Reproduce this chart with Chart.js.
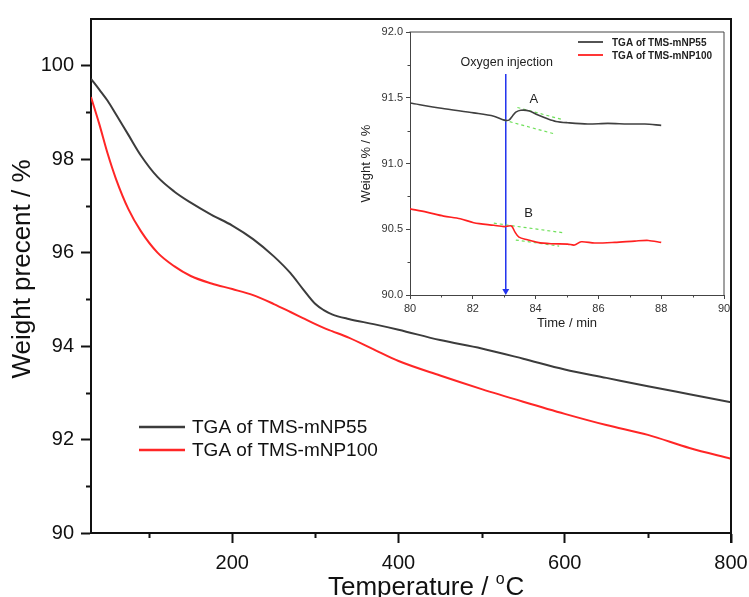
<!DOCTYPE html>
<html>
<head>
<meta charset="utf-8">
<script src="https://cdn.jsdelivr.net/npm/chart.js@4.4.1/dist/chart.umd.min.js"></script>
<style>
  html, body { margin: 0; padding: 0; background: #fff; }
  #wrap { position: relative; width: 749px; height: 597px; overflow: hidden; }
  #main { position: absolute; left: 0; top: 0; }
  #inset { position: absolute; left: 340px; top: 16px; }
</style>
</head>
<body>
<div id="wrap">
  <canvas id="main" width="749" height="597"></canvas>
  <canvas id="inset" width="395" height="320"></canvas>
</div>
<script>
// ---- main TGA curves (temperature in °C, weight in %) ----
const temps = [30, 40, 50, 60, 75, 90, 110, 130, 150, 175, 200, 225, 250, 270, 285, 300, 310, 320, 340, 370, 400, 450, 500, 550, 600, 650, 700, 750, 800];
const weightNP55 = [99.72, 99.49, 99.25, 98.96, 98.52, 98.08, 97.62, 97.31, 97.07, 96.81, 96.58, 96.29, 95.92, 95.56, 95.22, 94.90, 94.77, 94.68, 94.58, 94.47, 94.35, 94.13, 93.95, 93.73, 93.50, 93.32, 93.14, 92.97, 92.80];
const weightNP100 = [99.33, 98.75, 98.12, 97.58, 96.93, 96.46, 96.00, 95.71, 95.50, 95.34, 95.22, 95.09, 94.90, 94.73, 94.60, 94.47, 94.39, 94.32, 94.18, 93.93, 93.68, 93.37, 93.08, 92.81, 92.55, 92.31, 92.10, 91.82, 91.59];
const seriesNames = ["TGA of TMS-mNP55", "TGA of TMS-mNP100"];

const xMajorMain = [200, 400, 600, 800];
const xMinorMain = [100, 300, 500, 700];
const yMajorMain = [90, 92, 94, 96, 98, 100];
const yMinorMain = [91, 93, 95, 97, 99];

// ---- inset: isothermal segment around oxygen injection ----
const timeNP55 = [80, 81, 82.03, 82.67, 83, 83.15, 83.26, 83.37, 83.53, 83.8, 84.06, 84.38, 84.65, 85.02, 85.66, 86.3, 86.94, 87.48, 88];
const insetNP55 = [91.46, 91.42, 91.385, 91.36, 91.33, 91.33, 91.36, 91.39, 91.405, 91.40, 91.37, 91.34, 91.32, 91.31, 91.30, 91.305, 91.30, 91.30, 91.29];
const timeNP100 = [80, 80.53, 81.07, 81.6, 82.03, 82.67, 83, 83.23, 83.34, 83.47, 83.74, 84.06, 84.49, 85.02, 85.24, 85.45, 85.88, 86.52, 87.16, 87.59, 88];
const insetNP100 = [90.655, 90.63, 90.60, 90.58, 90.55, 90.53, 90.52, 90.525, 90.48, 90.44, 90.42, 90.40, 90.39, 90.387, 90.38, 90.405, 90.395, 90.40, 90.41, 90.415, 90.40];
// dashed tangents: [t1, w1, t2, w2]
const tangentLines = [
  [82.99, 91.33, 84.57, 91.227],
  [83.42, 91.426, 84.81, 91.337],
  [82.67, 90.546, 84.86, 90.474],
  [83.37, 90.418, 84.75, 90.372]
];
const arrowTime = 83.05;
const arrowRange = [91.68, 90.03];
const noteTexts = ["Oxygen injection", "A", "B"];
const noteTime = [83.08, 83.94, 83.78];
const noteWeight = [91.77, 91.49, 90.62];

const xMajorInset = [80, 82, 84, 86, 88, 90];
const xMinorInset = [81, 83, 85, 87, 89];
const yMajorInset = [90, 90.5, 91, 91.5, 92];
const yMinorInset = [90.25, 90.75, 91.25, 91.75];

const FONT = "'Liberation Sans', Arial, sans-serif";
Chart.defaults.font.family = FONT;
Chart.defaults.animation = false;

const BLACK = "#3c3c3c";
const RED = "#ff2626";

function pts(xs, ys) {
  return xs.map((x, i) => ({ x: x, y: ys[i] }));
}

// keep the plot box where the layout padding puts it
function noLabelPadding(s) {
  s.paddingLeft = 0;
  s.paddingRight = 0;
}

// small ticks between the labelled ones
const minorTicks = {
  id: "minorTicks",
  afterDraw(chart, args, opts) {
    const ctx = chart.ctx;
    const sx = chart.scales.x, sy = chart.scales.y;
    ctx.save();
    ctx.strokeStyle = opts.color;
    ctx.lineWidth = opts.width;
    ctx.beginPath();
    opts.x.forEach(v => {
      const p = Math.round(sx.getPixelForValue(v)) + 0.5;
      ctx.moveTo(p, sx.top);
      ctx.lineTo(p, sx.top + opts.length);
    });
    opts.y.forEach(v => {
      const p = Math.round(sy.getPixelForValue(v)) + 0.5;
      ctx.moveTo(sy.right, p);
      ctx.lineTo(sy.right - opts.length, p);
    });
    ctx.stroke();
    ctx.restore();
  }
};

// top and right edges of the plot box
const frame = {
  id: "frame",
  afterDraw(chart, args, opts) {
    const { ctx, chartArea: a } = chart;
    ctx.save();
    ctx.strokeStyle = opts.color;
    ctx.lineWidth = opts.width;
    ctx.beginPath();
    ctx.moveTo(a.left - opts.width / 2, a.top);
    ctx.lineTo(a.right, a.top);
    ctx.lineTo(a.right, a.bottom + opts.extend);
    ctx.stroke();
    ctx.restore();
  }
};

// legend drawn inside the plot area
const boxLegend = {
  id: "boxLegend",
  afterDraw(chart, args, opts) {
    const { ctx, chartArea: a } = chart;
    ctx.save();
    ctx.font = opts.font;
    ctx.textBaseline = "middle";
    ctx.textAlign = "left";
    chart.data.datasets.slice(0, 2).forEach((ds, i) => {
      const y = a.top + opts.top + i * opts.gap;
      ctx.strokeStyle = ds.borderColor;
      ctx.lineWidth = opts.lineWidth;
      ctx.beginPath();
      ctx.moveTo(a.left + opts.left, y);
      ctx.lineTo(a.left + opts.left + opts.lineLen, y);
      ctx.stroke();
      ctx.fillStyle = opts.color;
      ctx.fillText(ds.label, a.left + opts.left + opts.lineLen + opts.space, y + 1);
    });
    ctx.restore();
  }
};

// axis titles of the main plot (superscript o in the unit)
const mainTitles = {
  id: "mainTitles",
  afterDraw(chart) {
    const { ctx, chartArea: a } = chart;
    ctx.save();
    ctx.fillStyle = "#111";
    ctx.font = "26px " + FONT;
    ctx.textAlign = "center";
    ctx.textBaseline = "middle";
    ctx.translate(23, (a.top + a.bottom) / 2 - 7);
    ctx.rotate(-Math.PI / 2);
    ctx.fillText("Weight precent / %", 0, 0);
    ctx.restore();

    ctx.save();
    ctx.fillStyle = "#111";
    ctx.textAlign = "left";
    ctx.textBaseline = "alphabetic";
    const base = a.bottom + 62;
    let x = a.left + 237;
    ctx.font = "26px " + FONT;
    ctx.fillText("Temperature / ", x, base);
    x += ctx.measureText("Temperature / ").width;
    ctx.font = "16px " + FONT;
    ctx.fillText("o", x, base - 11);
    x += ctx.measureText("o").width + 1;
    ctx.font = "26px " + FONT;
    ctx.fillText("C", x, base);
    ctx.restore();
  }
};

// text notes placed at data positions in the inset
const notes = {
  id: "notes",
  afterDraw(chart) {
    const { ctx } = chart;
    const sx = chart.scales.x, sy = chart.scales.y;
    ctx.save();
    ctx.fillStyle = "#222";
    ctx.textAlign = "center";
    ctx.textBaseline = "middle";
    noteTexts.forEach((t, i) => {
      ctx.font = (i === 0 ? "12.5px " : "13px ") + FONT;
      ctx.fillText(t, sx.getPixelForValue(noteTime[i]), sy.getPixelForValue(noteWeight[i]));
    });
    ctx.restore();
  }
};

// ================= MAIN CHART =================
new Chart(document.getElementById("main"), {
  type: "line",
  data: {
    datasets: [
      { label: seriesNames[0], data: pts(temps, weightNP55), borderColor: BLACK, borderWidth: 2, pointRadius: 0, cubicInterpolationMode: "monotone" },
      { label: seriesNames[1], data: pts(temps, weightNP100), borderColor: RED, borderWidth: 2, pointRadius: 0, cubicInterpolationMode: "monotone" }
    ]
  },
  options: {
    responsive: false,
    devicePixelRatio: 1,
    layout: { padding: { left: 0, right: 18, top: 16, bottom: 0 } },
    plugins: {
      legend: { display: false },
      tooltip: { enabled: false },
      minorTicks: { x: xMinorMain, y: yMinorMain, length: 5, width: 2, color: "#111" },
      frame: { color: "#111", width: 2, extend: 10 },
      boxLegend: { font: "19px " + FONT, color: "#111", top: 408, gap: 23, left: 48, lineLen: 46, space: 7, lineWidth: 2.5 }
    },
    scales: {
      x: {
        type: "linear", min: 30, max: 800,
        afterFit: s => { s.height = 64; noLabelPadding(s); },
        afterBuildTicks: s => { s.ticks = xMajorMain.map(v => ({ value: v })); },
        grid: { drawOnChartArea: false, drawTicks: true, tickLength: 10, tickWidth: 2, tickColor: "#111" },
        border: { display: true, color: "#111", width: 2 },
        ticks: { color: "#111", font: { size: 20 }, padding: 8, maxRotation: 0 }
      },
      y: {
        type: "linear", min: 90, max: 101,
        afterFit: s => { s.width = 91; },
        afterBuildTicks: s => { s.ticks = yMajorMain.map(v => ({ value: v })); },
        grid: { drawOnChartArea: false, drawTicks: true, tickLength: 10, tickWidth: 2, tickColor: "#111" },
        border: { display: true, color: "#111", width: 2 },
        ticks: { color: "#111", font: { size: 20 }, padding: 7 }
      }
    }
  },
  plugins: [minorTicks, frame, boxLegend, mainTitles]
});

// ================= INSET =================
const tangentSets = tangentLines.map(l => ({
  label: "", data: [{ x: l[0], y: l[1] }, { x: l[2], y: l[3] }],
  borderColor: "#6fe05a", borderWidth: 1.2, borderDash: [3, 3], pointRadius: 0
}));

new Chart(document.getElementById("inset"), {
  type: "line",
  data: {
    datasets: [
      { label: seriesNames[0], data: pts(timeNP55, insetNP55), borderColor: "#404040", borderWidth: 1.6, pointRadius: 0, tension: 0.3 },
      { label: seriesNames[1], data: pts(timeNP100, insetNP100), borderColor: "#ff2020", borderWidth: 1.6, pointRadius: 0, tension: 0.3 },
      ...tangentSets,
      {
        label: "", data: [{ x: arrowTime, y: arrowRange[0] }, { x: arrowTime, y: arrowRange[1] }],
        borderColor: "#2233ee", backgroundColor: "#2233ee", borderWidth: 1.5,
        pointRadius: [0, 4], pointStyle: "triangle", pointRotation: 180, pointBorderWidth: 0
      }
    ]
  },
  options: {
    responsive: false,
    devicePixelRatio: 1,
    layout: { padding: { left: 0, right: 11, top: 16, bottom: 0 } },
    plugins: {
      legend: { display: false },
      tooltip: { enabled: false },
      minorTicks: { x: xMinorInset, y: yMinorInset, length: 2.5, width: 1, color: "#444" },
      frame: { color: "#444", width: 1, extend: 0 },
      boxLegend: { font: "bold 10px " + FONT, color: "#222", top: 10, gap: 13, left: 168, lineLen: 25, space: 9, lineWidth: 1.8 }
    },
    scales: {
      x: {
        type: "linear", min: 80, max: 90,
        afterFit: s => { s.height = 41; noLabelPadding(s); },
        afterBuildTicks: s => { s.ticks = xMajorInset.map(v => ({ value: v })); },
        grid: { drawOnChartArea: false, drawTicks: true, tickLength: 4, tickWidth: 1, tickColor: "#444" },
        border: { display: true, color: "#444", width: 1 },
        ticks: { color: "#333", font: { size: 11 }, padding: 3, maxRotation: 0 },
        title: { display: true, text: "Time / min", color: "#222", font: { size: 13 }, padding: { top: 0, bottom: 5 } }
      },
      y: {
        type: "linear", min: 90, max: 92,
        afterFit: s => { s.width = 70; },
        afterBuildTicks: s => { s.ticks = yMajorInset.map(v => ({ value: v })); },
        grid: { drawOnChartArea: false, drawTicks: true, tickLength: 4, tickWidth: 1, tickColor: "#444" },
        border: { display: true, color: "#444", width: 1 },
        ticks: { color: "#333", font: { size: 11 }, padding: 3, callback: v => v.toFixed(1) },
        title: { display: true, text: "Weight % / %", color: "#222", font: { size: 13 }, padding: { top: 19, bottom: 0 } }
      }
    }
  },
  plugins: [minorTicks, frame, boxLegend, notes]
});
</script>
</body>
</html>
